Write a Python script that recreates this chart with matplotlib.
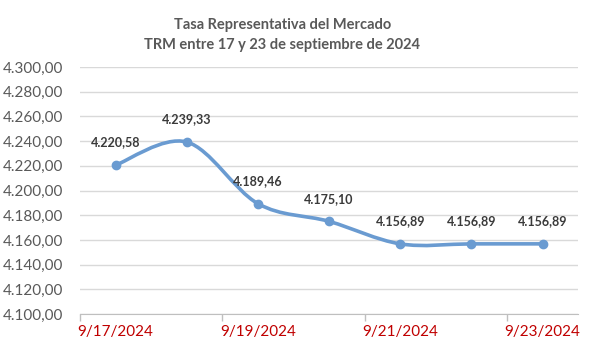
import numpy as np
import matplotlib
matplotlib.use("Agg")
import matplotlib.pyplot as plt
from matplotlib.path import Path
from matplotlib.patches import PathPatch

plt.rcParams['font.family'] = ['Lato', 'DejaVu Sans']

# datos
fechas = ['9/17/2024', '9/18/2024', '9/19/2024', '9/20/2024',
          '9/21/2024', '9/22/2024', '9/23/2024']
trm = [4220.58, 4239.33, 4189.46, 4175.10, 4156.89, 4156.89, 4156.89]
etiquetas_x = ['9/17/2024', '9/19/2024', '9/21/2024', '9/23/2024']
y_ticks = [4100, 4120, 4140, 4160, 4180, 4200, 4220, 4240, 4260, 4280, 4300]

azul = '#6A9BD1'
gris = '#595959'


def fmt(v):
    s = f"{v:,.2f}"
    return s.replace(',', 'X').replace('.', ',').replace('X', '.')


def suavizar(x, y):
    # curva suavizada tipo Excel (Catmull-Rom -> Bezier)
    p = np.column_stack([x, y]).astype(float)
    n = len(p)
    verts = [p[0]]
    codes = [Path.MOVETO]
    for i in range(n - 1):
        p0 = p[max(i - 1, 0)]
        p1 = p[i]
        p2 = p[i + 1]
        p3 = p[min(i + 2, n - 1)]
        c1 = p1 + (p2 - p0) / 6
        c2 = p2 - (p3 - p1) / 6
        verts += [c1, c2, p2]
        codes += [Path.CURVE4] * 3
    return Path(verts, codes)


fig = plt.figure(figsize=(6.01, 3.51), dpi=100)
ax = fig.add_axes([0.133, 0.105, 0.829, 0.704])

x = np.arange(len(fechas))
ax.add_patch(PathPatch(suavizar(x, trm), facecolor='none', edgecolor=azul,
                       lw=2.6, capstyle='round', zorder=3))
ax.plot(x, trm, 'o', color=azul, ms=6, zorder=4)

for xi, v in zip(x, trm):
    ax.annotate(fmt(v), (xi, v), xytext=(0, 12), textcoords='offset points',
                ha='center', va='bottom', fontsize=9, fontweight='bold',
                color='#3A3A3A', zorder=5)

ax.set_xlim(-0.5, len(fechas) - 0.5)
ax.set_ylim(4100, 4300)
ax.set_yticks(y_ticks)
ax.set_yticklabels([fmt(v) for v in y_ticks], fontsize=11, color=gris)
ax.tick_params(axis='y', length=0, pad=12)

ax.set_xticks([i for i in range(0, len(fechas), 2)])
ax.set_xticklabels(etiquetas_x, fontsize=11, color='#C00000')
ax.set_xticks(np.arange(-0.5, len(fechas), 2), minor=True)
ax.tick_params(axis='x', which='major', length=0, pad=8)
ax.tick_params(axis='x', which='minor', length=5, color='#BFBFBF', width=1)

ax.grid(axis='y', color='#D9D9D9', lw=1)
ax.set_axisbelow(True)
for s in ['top', 'right', 'left']:
    ax.spines[s].set_visible(False)
ax.spines['bottom'].set_color('#BFBFBF')

fig.text(0.47, 0.9, 'Tasa Representativa del Mercado\nTRM entre 17 y 23 de septiembre de 2024',
         ha='center', va='center', fontsize=10.5, fontweight='bold', color=gris,
         linespacing=1.5)

fig.savefig('out.png', dpi=100)
